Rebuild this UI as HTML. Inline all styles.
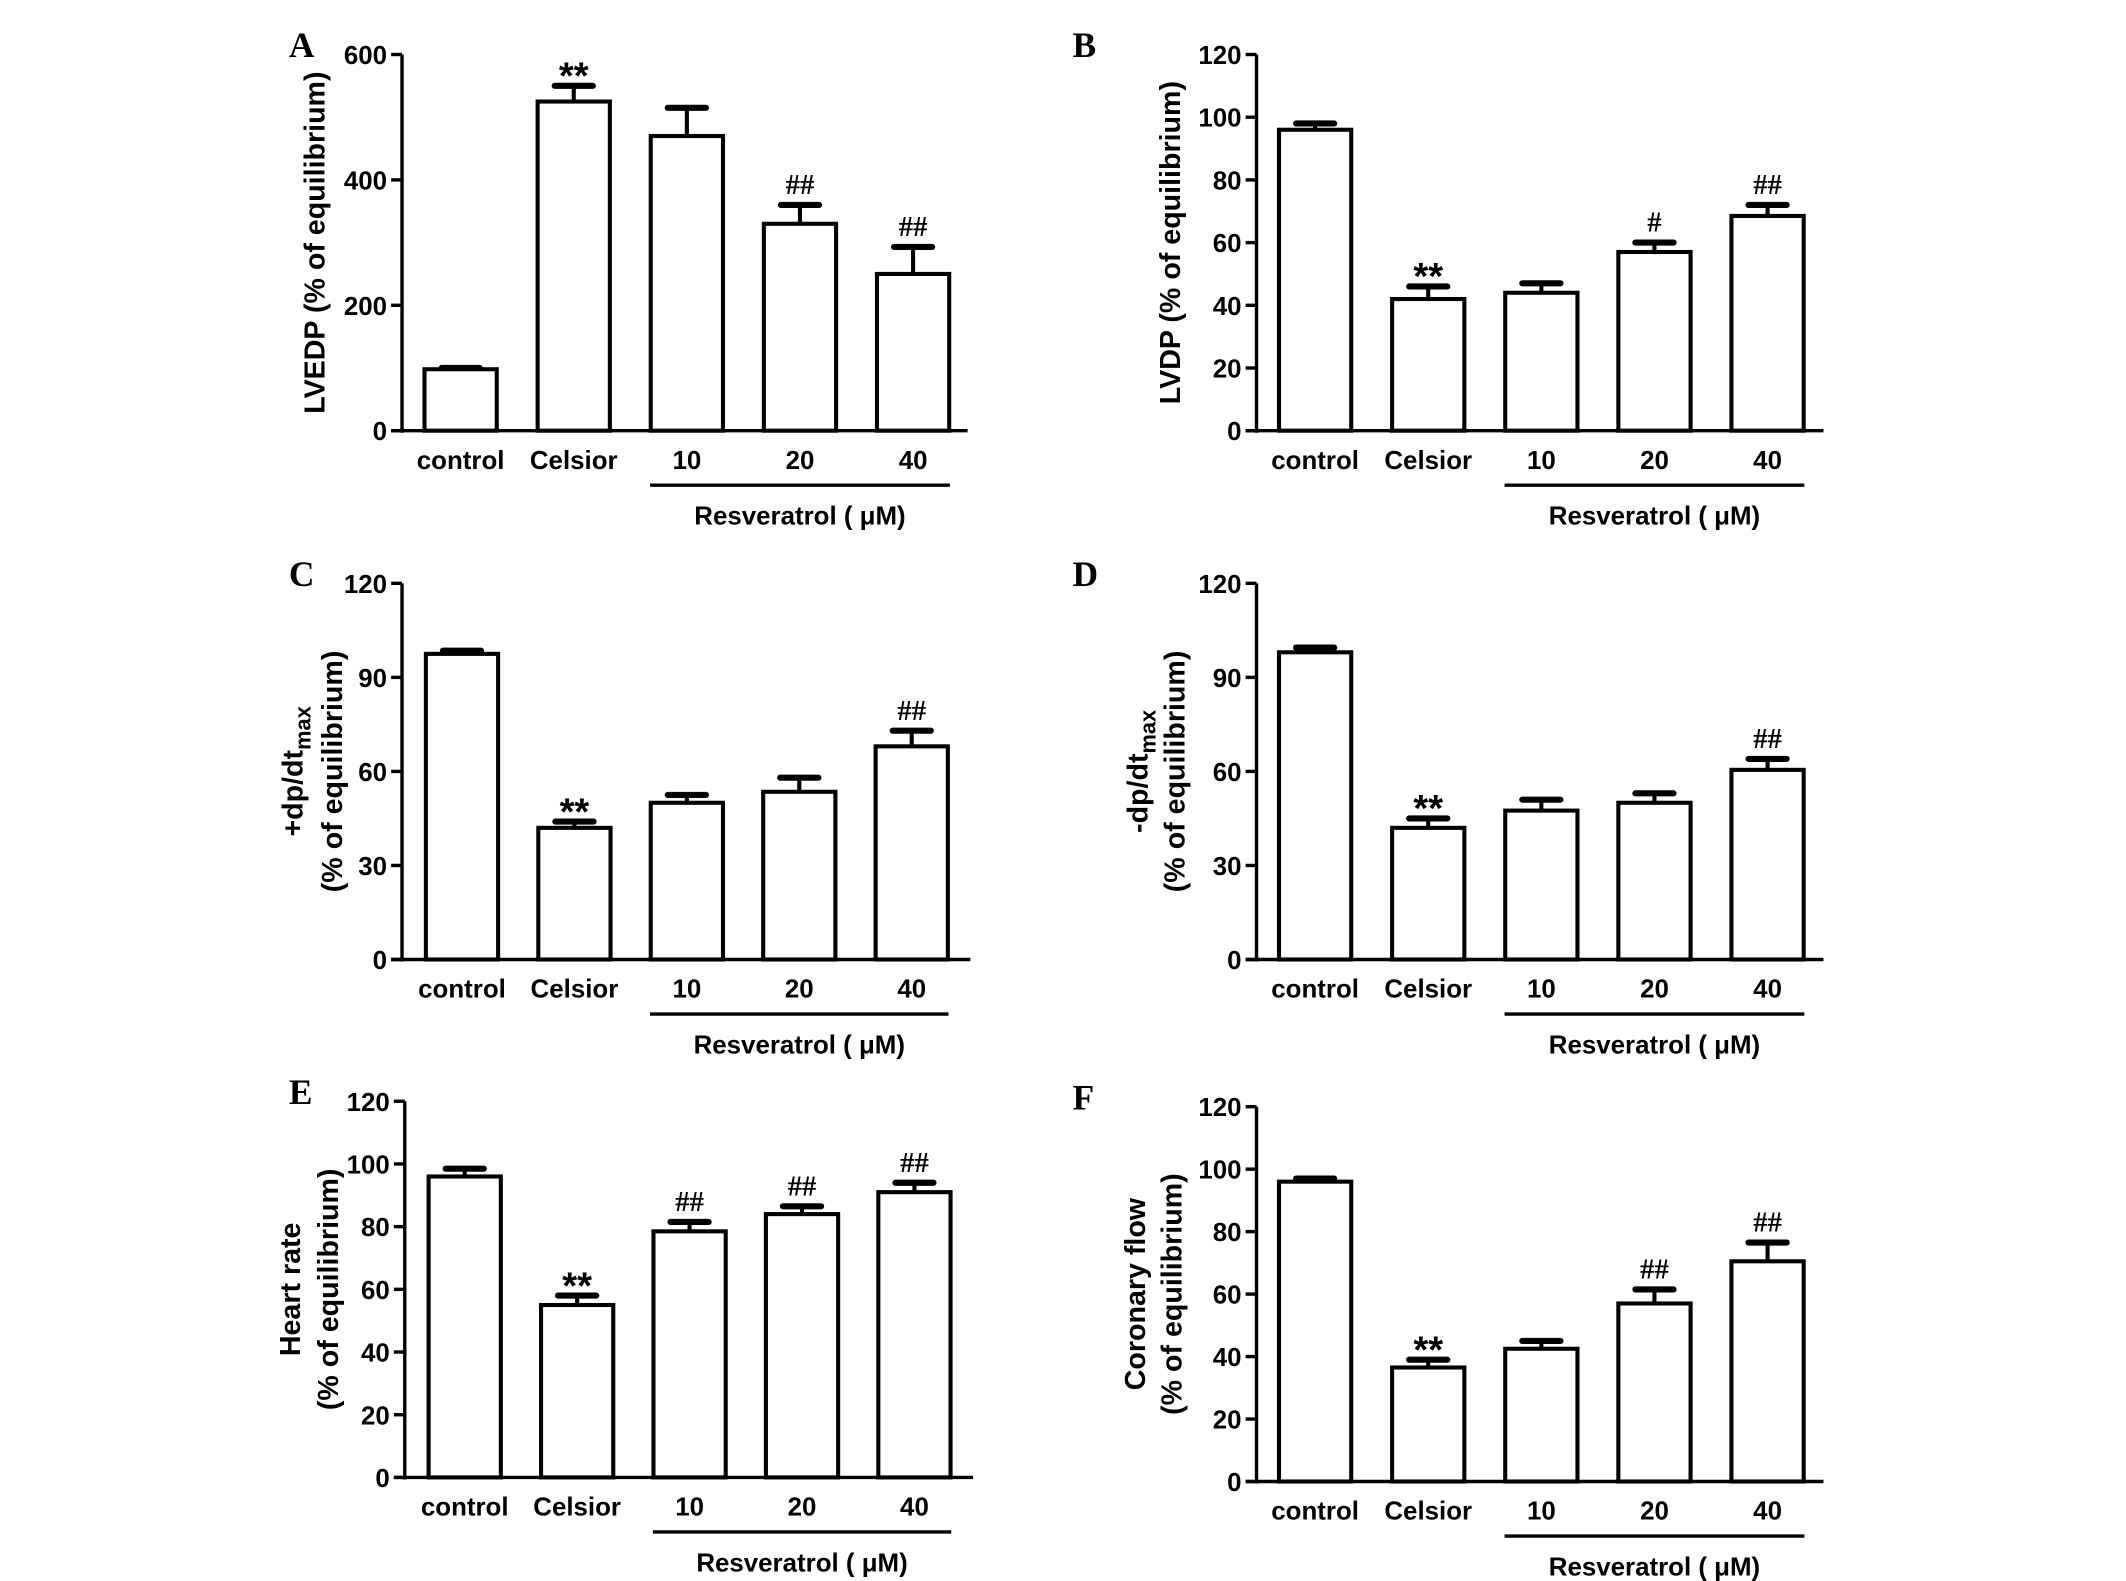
<!DOCTYPE html>
<html><head><meta charset="utf-8"><title>Resveratrol panels</title>
<style>html,body{margin:0;padding:0;background:#fff}svg{display:block}</style></head>
<body>
<svg id="fig" width="2126" height="1581" viewBox="0 0 1560 1160" preserveAspectRatio="none" xmlns="http://www.w3.org/2000/svg"></svg>
<script>
const categories = ["control","Celsior","10","20","40"];
const valuesA = [98,525,470,330,250];
const errorsA = [100,550,515,360,293];
const valuesB = [96,42,44,57,68.5];
const errorsB = [98,46,47,60,72];
const valuesC = [97.5,42,50,53.5,68];
const errorsC = [98.5,44,52.5,58,73];
const valuesD = [98,42,47.5,50,60.5];
const errorsD = [99.5,45,51,53,64];
const valuesE = [96,55,78.5,84,91];
const errorsE = [98.5,58,81.5,86.5,94];
const valuesF = [96,36.5,42.5,57,70.5];
const errorsF = [97,39,45,61.5,76.5];
const ticksA = [0,200,400,600];
const ticks20 = [0,20,40,60,80,100,120];
const ticks30 = [0,30,60,90,120];
const annA = ["","**","","##","##"];
const annB = ["","**","","#","##"];
const annC = ["","**","","","##"];
const annD = ["","**","","","##"];
const annE = ["","**","##","##","##"];
const annF = ["","**","","##","##"];

const NS="http://www.w3.org/2000/svg";
const svg=document.getElementById('fig');
function mk(tag,attrs,parent){const e=document.createElementNS(NS,tag);for(const k in attrs)e.setAttribute(k,attrs[k]);(parent||svg).appendChild(e);return e;}
const SANS='"Liberation Sans", Arial, sans-serif';
const SERIF='"Liberation Serif", serif';

function panel(p){
  const g=mk('g',{});
  
  
  const y=v=>p.y0-(v/p.max)*(p.y0-p.yTop);
  const xc=i=>p.x0+p.first+i*p.step;
  const L=mk('text',{x:p.lx,y:p.yTop+2,'font-family':SERIF,'font-weight':'bold','font-size':26},g);
  L.textContent=p.letter;
  
  
  const ya=mk('line',{x1:p.x0,y1:p.yTop,x2:p.x0,y2:p.y0+1.5,stroke:'#000','stroke-width':2.5},g);
  
  
  const xa=mk('line',{x1:p.x0-8,y1:p.y0,x2:p.xEnd,y2:p.y0,stroke:'#000','stroke-width':2.5},g);
  
  
  p.ticks.forEach(t=>{
    mk('line',{x1:p.x0-8,y1:y(t),x2:p.x0,y2:y(t),stroke:'#000','stroke-width':2.5},g);
    const tl=mk('text',{x:p.x0-11,y:y(t)+7,'text-anchor':'end','font-family':SANS,'font-weight':'bold','font-size':19},g);
    tl.textContent=t;
    
    
  });
  p.values.forEach((v,i)=>{
    const cx=xc(i), w=53;
    const eb=mk('line',{x1:cx,y1:y(v),x2:cx,y2:y(p.errors[i]),stroke:'#000','stroke-width':3},g);
    
    
    const cap=mk('line',{x1:cx-14,y1:y(p.errors[i]),x2:cx+14,y2:y(p.errors[i]),stroke:'#000','stroke-width':4.5,'stroke-linecap':'round'},g);
    
    
    const r=mk('rect',{x:cx-w/2,y:y(v),width:w,height:p.y0-y(v),fill:'#fff',stroke:'#000','stroke-width':3},g);
    
    
    const cl=mk('text',{x:cx,y:p.y0+28,'text-anchor':'middle','font-family':SANS,'font-weight':'bold','font-size':19},g);
    cl.textContent=categories[i];
    
    
    if(p.ann[i]){
      const star=p.ann[i][0]=='*';
      const a=mk('text',{x:cx,y:y(p.errors[i])-(star?-2:8),'text-anchor':'middle','font-family':star?SANS:SERIF,'font-size':star?28:21,'font-weight':'bold'},g);
      a.textContent=p.ann[i];
      
      
    }
  });
  const bl=mk('line',{x1:xc(2)-27,y1:p.y0+40,x2:xc(4)+27,y2:p.y0+40,stroke:'#000','stroke-width':2.5},g);
  
  
  const rt=mk('text',{x:xc(3),y:p.y0+69,'text-anchor':'middle','font-family':SANS,'font-weight':'bold','font-size':19},g);
  rt.textContent='Resveratrol ( \u03BCM)';
  
  
  const cy=(p.yTop+p.y0)/2;
  p.titles.forEach((t,k)=>{
    const tt=mk('text',{x:p.tx[k],y:cy,'text-anchor':'middle','font-family':SANS,'font-weight':'bold','font-size':21,transform:`rotate(-90 ${p.tx[k]} ${cy})`},g);
    if(t.sub){tt.textContent=t.main;const ts=mk('tspan',{'font-size':16,dy:6},tt);ts.textContent=t.sub;}
    else tt.textContent=t.main;
    
    
  });
}
panel({letter:'A',lx:212,x0:295,yTop:40,y0:316,xEnd:710,first:43,step:83,max:600,ticks:ticksA,values:valuesA,errors:errorsA,ann:annA,titles:[{main:'LVEDP  (% of equilibrium)'}],tx:[238]});
panel({letter:'B',lx:787,x0:922,yTop:40,y0:316,xEnd:1338,first:43,step:83,max:120,ticks:ticks20,values:valuesB,errors:errorsB,ann:annB,titles:[{main:'LVDP (% of equilibrium)'}],tx:[866]});
panel({letter:'C',lx:212,x0:295,yTop:428,y0:704,xEnd:712,first:44,step:82.5,max:120,ticks:ticks30,values:valuesC,errors:errorsC,ann:annC,titles:[{main:'+dp/dt',sub:'max'},{main:'(% of equilibrium)'}],tx:[222,251]});
panel({letter:'D',lx:787,x0:922,yTop:428,y0:704,xEnd:1338,first:43,step:83,max:120,ticks:ticks30,values:valuesD,errors:errorsD,ann:annD,titles:[{main:'-dp/dt',sub:'max'},{main:'(% of equilibrium)'}],tx:[842,869]});
panel({letter:'E',lx:212,x0:297,yTop:808,y0:1084,xEnd:714,first:44,step:82.5,max:120,ticks:ticks20,values:valuesE,errors:errorsE,ann:annE,titles:[{main:'Heart rate'},{main:'(% of equilibrium)'}],tx:[220,248]});
panel({letter:'F',lx:787,x0:922,yTop:812,y0:1087,xEnd:1338,first:43,step:83,max:120,ticks:ticks20,values:valuesF,errors:errorsF,ann:annF,titles:[{main:'Coronary flow'},{main:'(% of equilibrium)'}],tx:[840,867]});
</script>
</body></html>
